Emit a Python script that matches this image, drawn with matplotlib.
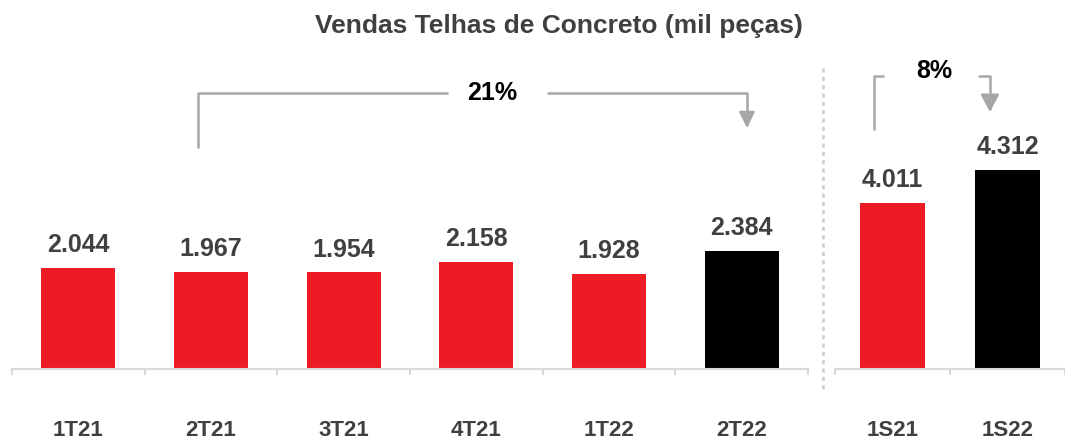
import matplotlib
matplotlib.use("Agg")
import matplotlib.pyplot as plt
from matplotlib.lines import Line2D

plt.rcParams['font.family'] = ['Liberation Sans', 'DejaVu Sans']

# Data
quarters = ["1T21", "2T21", "3T21", "4T21", "1T22", "2T22"]
quarter_values = [2.044, 1.967, 1.954, 2.158, 1.928, 2.384]
quarter_labels = ["2.044", "1.967", "1.954", "2.158", "1.928", "2.384"]
semesters = ["1S21", "1S22"]
semester_values = [4.011, 4.312]
semester_labels = ["4.011", "4.312"]
growth_quarter = "21%"
growth_semester = "8%"
title = "Vendas Telhas de Concreto (mil peças)"

RED = "#ED1C24"
BLACK = "#000000"
TXT = "#404040"
GRAY = "#A6A6A6"
AXC = "#D9D9D9"

W, H = 1065, 443
fig = plt.figure(figsize=(W / 100, H / 100), dpi=100)

def px(x0, y0, w, h):
    return [x0 / W, (H - y0 - h) / H, w / W, h / H]

base_y = 369
ax_h = 309
axL = fig.add_axes(px(12, base_y - ax_h, 796, ax_h))
axR = fig.add_axes(px(835, base_y - ax_h, 230, ax_h))

bw = 0.56
colorsL = [RED] * (len(quarters) - 1) + [BLACK]
colorsR = [RED, BLACK]
xL = list(range(len(quarters)))
xR = list(range(len(semesters)))
axL.bar(xL, quarter_values, width=bw, color=colorsL)
axR.bar(xR, semester_values, width=bw, color=colorsR)

axL.set_xlim(-0.5, len(quarters) - 0.5)
axL.set_ylim(0, ax_h / 49.4)
axR.set_xlim(-0.5, -0.5 + 230 / 121)
axR.set_ylim(2.5, 2.5 + ax_h / 109.9)

for ax, n in ((axL, len(quarters)), (axR, len(semesters))):
    for s in ("top", "left", "right"):
        ax.spines[s].set_visible(False)
    ax.spines["bottom"].set_color(AXC)
    ax.spines["bottom"].set_linewidth(1.5)
    ax.set_yticks([])
    ax.set_xticks([i - 0.5 for i in range(n + 1)])
    ax.set_xticklabels([])
    ax.tick_params(axis="x", length=4.5, width=1.5, color=AXC, direction="out")
    ax.set_facecolor("none")

for ax, xs, cats, vals, labs in ((axL, xL, quarters, quarter_values, quarter_labels),
                                 (axR, xR, semesters, semester_values, semester_labels)):
    for x, c, v, l in zip(xs, cats, vals, labs):
        ax.annotate(l, (x, v), xytext=(0, 11.5), textcoords="offset points",
                    ha="center", va="baseline", fontsize=18, fontweight="bold",
                    color=TXT, annotation_clip=False)
        ax.text(x, -61 / ax_h, c, transform=ax.get_xaxis_transform(),
                ha="center", va="center", fontsize=16, fontweight="bold",
                color=TXT, clip_on=False)

def yL(p):
    return (base_y - p) / 49.4

def yR(p):
    return 2.5 + (base_y - p) / 109.9

def xLp(p):
    return (p - 12) / 132.67 - 0.5

def xRp(p):
    return (p - 835) / 121 - 0.5

lw = 1.8
# Left bracket (21%)
axL.plot([xLp(198), xLp(198), xLp(448)], [yL(148), yL(93), yL(93)], color=GRAY,
         lw=lw, solid_capstyle="butt", clip_on=False)
axL.annotate("", xy=(xLp(747), yL(128)), xytext=(xLp(548), yL(93)),
             arrowprops=dict(arrowstyle="-|>,head_length=0.95,head_width=0.47",
                             connectionstyle="angle,angleA=0,angleB=90,rad=0",
                             color=GRAY, lw=lw, shrinkA=0, shrinkB=0),
             annotation_clip=False)
axL.text(xLp(492), yL(93), growth_quarter, ha="center", va="center",
         fontsize=18, fontweight="bold", color=BLACK, clip_on=False)

# Right bracket (8%)
axR.plot([xRp(876), xRp(876), xRp(887)], [yR(130), yR(76), yR(76)], color=GRAY,
         lw=lw, solid_capstyle="butt", clip_on=False)
axR.annotate("", xy=(xRp(998), yR(112)), xytext=(xRp(987), yR(76)),
             arrowprops=dict(arrowstyle="-|>,head_length=1.05,head_width=0.56",
                             connectionstyle="angle,angleA=0,angleB=90,rad=0",
                             color=GRAY, lw=lw, shrinkA=0, shrinkB=0),
             annotation_clip=False)
axR.text(xRp(939), yR(71), growth_semester, ha="center", va="center",
         fontsize=18, fontweight="bold", color=BLACK, clip_on=False)

# Dotted separator
fig.add_artist(Line2D([823 / W, 823 / W], [1 - 68 / H, 1 - 390 / H],
                      transform=fig.transFigure, color="#D0D0D0", lw=2,
                      linestyle=(0, (1.5, 1.5))))

fig.text(559 / W, 1 - 33 / H, title, ha="center", va="baseline",
         fontsize=19, fontweight="bold", color=TXT)

fig.savefig("out.png", dpi=100)
